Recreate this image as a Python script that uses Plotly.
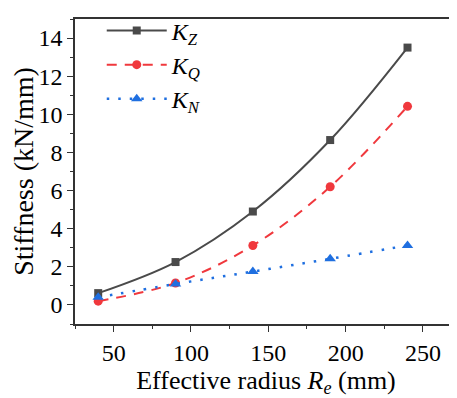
import plotly.graph_objects as go

radius = [40, 90, 140, 190, 240]
k_z = [0.62, 2.25, 4.9, 8.65, 13.5]
k_q = [0.2, 1.15, 3.12, 6.2, 10.42]
k_n = [0.4, 1.1, 1.75, 2.42, 3.12]

x_ticks = [50, 100, 150, 200, 250]
y_ticks = [0, 2, 4, 6, 8, 10, 12, 14]

FONT = "Liberation Serif, Times New Roman, serif"

fig = go.Figure()
fig.add_trace(go.Scatter(
    x=radius, y=k_z, name="<i>K<sub>Z</sub></i>", mode="lines+markers",
    line=dict(color="#4a4a4a", width=2, shape="spline"),
    marker=dict(symbol="square", size=8, color="#4a4a4a")))
fig.add_trace(go.Scatter(
    x=radius, y=k_q, name="<i>K<sub>Q</sub></i>", mode="lines+markers",
    line=dict(color="#f0383d", width=2, dash="10px,8px", shape="spline"),
    marker=dict(symbol="circle", size=9, color="#f0383d")))
fig.add_trace(go.Scatter(
    x=radius, y=k_n, name="<i>K<sub>N</sub></i>", mode="lines+markers",
    line=dict(color="#1f6fe0", width=2.5, dash="2.5px,9px", shape="spline"),
    marker=dict(symbol="triangle-up", size=10, color="#1f6fe0")))

# page body has an 8px default margin, so the figure is sized to the visible area
fig.update_layout(
    width=449, height=390,
    margin=dict(l=67, r=0, t=2, b=74),
    paper_bgcolor="white", plot_bgcolor="white",
    font=dict(family=FONT, size=22, color="black"),
    showlegend=True,
    legend=dict(x=0.07, y=1.035, xanchor="left", yanchor="top",
                bgcolor="rgba(0,0,0,0)", font=dict(family=FONT, size=24),
                tracegroupgap=0, itemwidth=60),
)
fig.update_xaxes(
    range=[25, 272], tickvals=x_ticks, ticktext=[str(v) for v in x_ticks],
    showgrid=False, zeroline=False, showline=True, linecolor="#333",
    linewidth=1.5, mirror=True, ticks="outside", ticklen=6, tickcolor="#333",
    tickfont=dict(family=FONT, size=24), automargin=False,
    minor=dict(ticks="outside", ticklen=3, dtick=25, tick0=25, tickcolor="#333"),
    title=dict(text="Effective radius <i>R<sub>e</sub></i> (mm)", font=dict(family=FONT, size=26), standoff=6),
)
fig.update_yaxes(
    range=[-1, 15], tickvals=y_ticks, ticktext=[str(v) for v in y_ticks],
    showgrid=False, zeroline=False, showline=True, linecolor="#333",
    linewidth=1.5, mirror=False, ticks="outside", ticklen=6, tickcolor="#333",
    tickfont=dict(family=FONT, size=24), automargin=False,
    minor=dict(ticks="outside", ticklen=3, dtick=1, tick0=0, tickcolor="#333"),
    title=dict(text="Stiffness (kN/mm)", font=dict(family=FONT, size=28), standoff=4),
)

fig.write_html("out.html")
